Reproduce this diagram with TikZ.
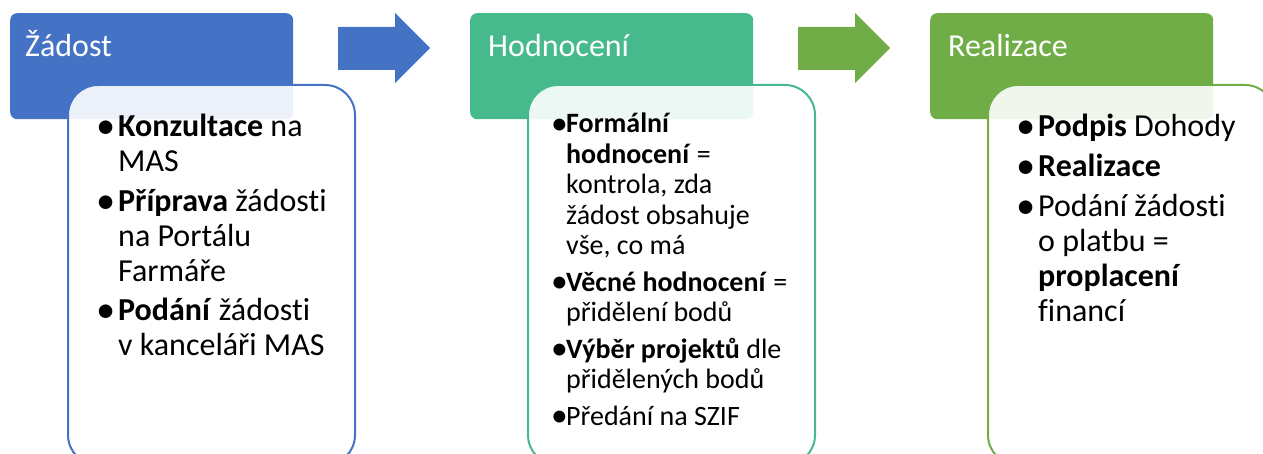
\documentclass[tikz,border=0pt]{standalone}
\usepackage{fontspec}
\setmainfont[Ligatures=NoCommon]{Carlito}
\usepackage{array}
\definecolor{stageblue}{HTML}{4472C4}
\definecolor{stageteal}{HTML}{46BA8C}
\definecolor{stagegreen}{HTML}{70AD47}
\newcommand{\bul}{\makebox[0pt][l]{\hspace{-1pt}\raisebox{-0.04em}{\scalebox{1.2}{•}}}}
\tikzset{
  header/.style={rectangle,rounded corners=7pt,fill=#1,anchor=north west,
    minimum width=283pt,minimum height=106pt,inner sep=0pt},
  body/.style={rectangle,rounded corners=30pt,draw=#1,line width=2pt,
    fill=white,fill opacity=0.9,anchor=north west,
    minimum width=287pt,minimum height=380pt,inner sep=0pt},
  title/.style={anchor=base west,text=white,inner sep=0pt,
    font=\fontsize{32}{35}\selectfont},
  items/.style={anchor=base west,inner sep=0pt,align=left},
}
\begin{document}
\begin{tikzpicture}[x=1pt,y=-1pt]
  \useasboundingbox (0,0) rectangle (1263,454);
  \clip (0,0) rectangle (1263,454);

  % stage headers
  \node[header=stageblue] (h1) at (10,13) {};
  \node[header=stageteal] (h2) at (470,13) {};
  \node[header=stagegreen] (h3) at (930,13) {};

  % stage bodies
  \node[body=stageblue] (b1) at (67,84) {};
  \node[body=stageteal] (b2) at (527,84) {};
  \node[body=stagegreen] (b3) at (987,84) {};

  \node[title] (n1) at (25,57) {Žádost};
  \node[title] (n2) at (488,57) {Hodnocení};
  \node[title] (n3) at (948,57) {Realizace};

  % block arrows between the stages
  \foreach \ax/\col in {338/stageblue,798/stagegreen}
    \fill[\col] (\ax,27) -- ++(57,0) -- ++(0,-14) -- ++(35,35) -- ++(-35,35)
      -- ++(0,-13) -- ++(-57,0) -- cycle;

  \node[items,font=\fontsize{32}{35}\selectfont] (t1) at (97,137) {%
    \begin{tabular}[t]{@{}p{21pt}@{}l@{}}
    \bul & \textbf{Konzultace} na\\
      & MAS\\[5pt]
    \bul & \textbf{Příprava} žádosti\\
      & na Portálu\\
      & Farmáře\\[4pt]
    \bul & \textbf{Podání} žádosti\\
      & v kanceláři MAS
    \end{tabular}};

  \node[items,font=\fontsize{28}{30.5}\selectfont] (t2) at (552,133) {%
    \begin{tabular}[t]{@{}p{14pt}@{}l@{}}
    \bul & \textbf{Formální}\\
      & \textbf{hodnocení} =\\
      & kontrola, zda\\
      & žádost obsahuje\\
      & vše, co má\\[6pt]
    \bul & \textbf{Věcné hodnocení} =\\
      & přidělení bodů\\[6pt]
    \bul & \textbf{Výběr projektů} dle\\
      & přidělených bodů\\[6pt]
    \bul & Předání na SZIF
    \end{tabular}};

  \node[items,font=\fontsize{32}{35}\selectfont] (t3) at (1017,137) {%
    \begin{tabular}[t]{@{}p{21pt}@{}l@{}}
    \bul & \textbf{Podpis} Dohody\\[5pt]
    \bul & \textbf{Realizace}\\[5pt]
    \bul & Podání žádosti\\
      & o platbu =\\
      & \textbf{proplacení}\\
      & financí
    \end{tabular}};
\end{tikzpicture}
\end{document}
